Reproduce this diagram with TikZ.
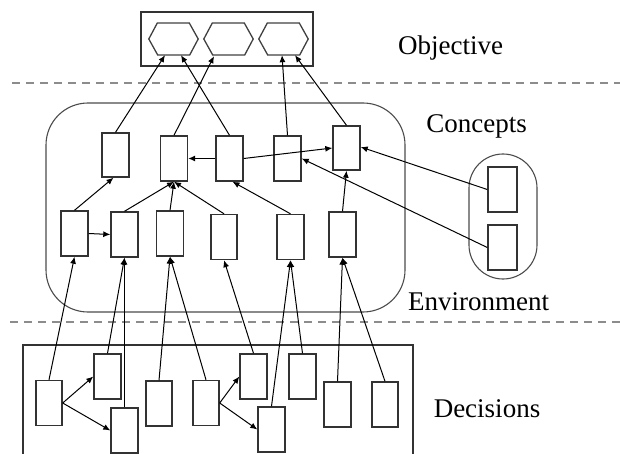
\documentclass[tikz,border=0pt]{standalone}
\usepackage{fontspec}
\setmainfont{Liberation Serif}
\usetikzlibrary{arrows.meta}

\tikzset{
  caixa/.style={draw=black!80, line width=1.4pt, fill=white, inner sep=0pt,
    minimum width=27pt, minimum height=45pt},
  hexa/.style={inner sep=0pt, minimum width=49pt, minimum height=32pt},
  seta/.style={-{Latex[length=7pt,width=6pt]}, line width=1pt},
  divisa/.style={draw=black!45, line width=1.5pt, dash pattern=on 8pt off 6pt},
  rotulo/.style={anchor=base, font=\fontsize{27}{30}\selectfont}
}

\begin{document}
\begin{tikzpicture}[x=1pt, y=-1pt]
        \useasboundingbox (0,0) rectangle (620,454);

        % Linhas divisorias
        \draw[divisa] (12,83) -- (620,83);
        \draw[divisa] (10,322) -- (620,322);

        % Molduras
        \draw[black!80, line width=1.5pt] (141,12) rectangle (313,66);
        \draw[black!70, line width=1.1pt, rounded corners=42pt] (46,103) rectangle (405,312);
        \draw[black!70, line width=1.1pt, rounded corners=34pt] (469,154) rectangle (537,279);
        \draw[black!80, line width=1.5pt] (23,454) -- (23,345) -- (413,345) -- (413,454);

        % Objetivos
        \node[hexa] (h1) at (173.5,39) {};
        \node[hexa] (h2) at (228.5,39) {};
        \node[hexa] (h3) at (283.5,39) {};
        \foreach \h in {h1,h2,h3}
          \draw[black!75, line width=1.3pt] (\h.west) -- ++(8.5,-16) -- ++(32,0)
            -- (\h.east) -- ++(-8.5,16) -- ++(-32,0) -- cycle;

        % Conceitos
        \node[caixa, minimum height=44pt] (c1) at (115.5,155) {};
        \node[caixa] (c2) at (174,158.5) {};
        \node[caixa] (c3) at (229.5,158.5) {};
        \node[caixa] (c4) at (287.5,158.5) {};
        \node[caixa, minimum height=44pt] (c5) at (346.5,148) {};

        \node[caixa] (l1) at (74.5,233.5) {};
        \node[caixa] (l2) at (124.5,234.5) {};
        \node[caixa] (l3) at (170,233.5) {};
        \node[caixa, minimum width=26pt] (l4) at (224,237) {};
        \node[caixa] (l5) at (290.5,237) {};
        \node[caixa] (l6) at (342.5,234.5) {};

        % Ambiente
        \node[caixa, minimum width=29pt] (e1) at (502.5,189.5) {};
        \node[caixa, minimum width=29pt] (e2) at (502.5,247.5) {};

        % Decisoes
        \node[caixa, minimum width=26pt] (d1) at (49,403) {};
        \node[caixa] (d2) at (107.5,376.5) {};
        \node[caixa] (d3) at (124.5,430.5) {};
        \node[caixa, minimum width=26pt] (d4) at (159,403.5) {};
        \node[caixa, minimum width=26pt] (d5) at (206,403) {};
        \node[caixa] (d6) at (253.5,376.5) {};
        \node[caixa] (d7) at (271.5,429.5) {};
        \node[caixa] (d8) at (302.5,376.5) {};
        \node[caixa] (d9) at (337.5,404.5) {};
        \node[caixa, minimum width=26pt] (d10) at (385,404.5) {};

        % Setas para os objetivos
        \draw[seta] (c1.north) -- ([xshift=-8.5pt]h1.south);
        \draw[seta] (c3.north) -- ([xshift=7.5pt]h1.south);
        \draw[seta] (c2.north) -- ([xshift=-14.5pt,yshift=-1pt]h2.south);
        \draw[seta] (c4.north) -- ([xshift=-1.5pt]h3.south);
        \draw[seta] (c5.north) -- ([xshift=11.5pt]h3.south);

        % Setas entre conceitos
        \draw[seta] (c3.west) -- (c2.east);
        \draw[seta] (c3.east) -- (c5.west);
        \draw[seta] (l1.north) -- ([xshift=-2pt]c1.south);
        \draw[seta] (l2.north) -- (c2.south);
        \draw[seta] (l3.north) -- (c2.south);
        \draw[seta] (l4.north) -- (c2.south);
        \draw[seta] (l5.north) -- ([xshift=3pt]c3.south);
        \draw[seta] (l6.north) -- (c5.south);
        \draw[seta] (l1.east) -- (l2.west);

        % Setas do ambiente
        \draw[seta] (e1.west) -- ([yshift=1pt]c5.east);
        \draw[seta] (e2.west) -- (c4.east);

        % Setas das decisoes
        \draw[seta] (d1.north) -- (l1.south);
        \draw[seta] (d2.north) -- (l2.south);
        \draw[seta] (d3.north) -- (l2.south);
        \draw[seta] (d4.north) -- (l3.south);
        \draw[seta] (d5.north) -- (l3.south);
        \draw[seta] (d6.north) -- (l4.south);
        \draw[seta] (d7.north) -- (l5.south);
        \draw[seta] (d8.north) -- (l5.south);
        \draw[seta] (d9.north) -- (l6.south);
        \draw[seta] (d10.north) -- (l6.south);
        \draw[seta] (d1.east) -- (d2.west);
        \draw[seta] (d1.east) -- (d3.west);
        \draw[seta] (d5.east) -- (d6.west);
        \draw[seta] (d5.east) -- (d7.west);

        % Rotulos
        \node[rotulo] (tobj) at (450.5,55) {Objective};
        \node[rotulo] (tcon) at (476.5,133) {Concepts};
        \node[rotulo] (tamb) at (478.5,310) {Environment};
        \node[rotulo] (tdec) at (487,417) {Decisions};
\end{tikzpicture}
\end{document}
